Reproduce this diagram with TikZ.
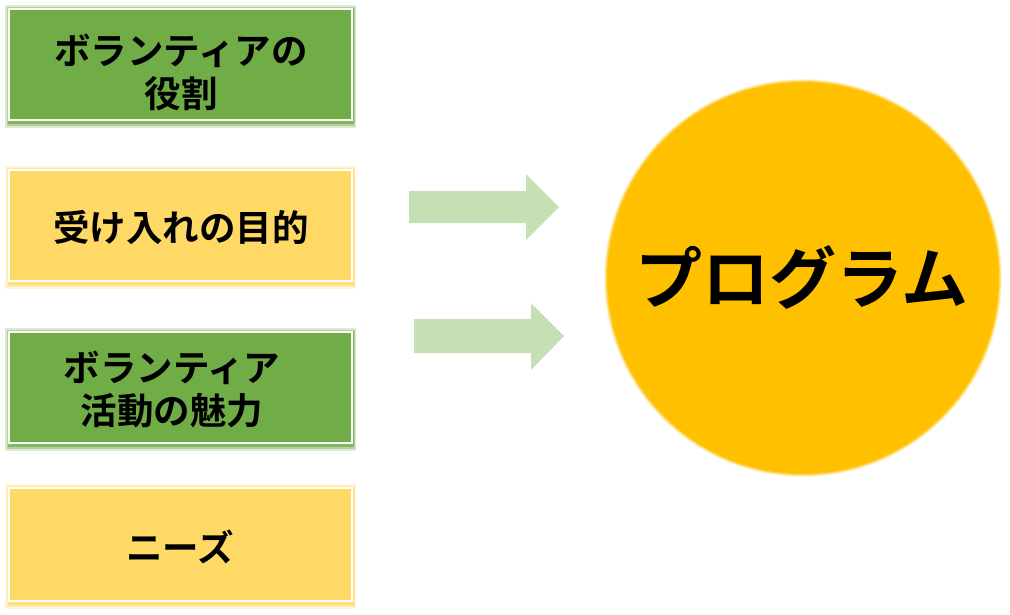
\documentclass[tikz,border=0pt]{standalone}
\usepackage{fontspec}
\newfontfamily\jp{Noto Sans CJK JP}[BoldFont={Noto Sans CJK JP Bold}]
\definecolor{boxgreen}{HTML}{70AD47}
\definecolor{boxyellow}{HTML}{FFD966}
\definecolor{arrowgreen}{HTML}{C5E0B4}
\definecolor{circyellow}{HTML}{FFC000}
\tikzset{
  card/.style={rectangle, draw=white, line width=1.4pt, minimum width=343pt, inner sep=0pt},
  cardtext/.style={font=\jp\bfseries\fontsize{36.5}{43}\selectfont, align=center, text=black, inner sep=0pt},
  bigtext/.style={font=\jp\bfseries\fontsize{67}{70}\selectfont, text=black, inner sep=0pt},
  blockarrow/.style={fill=arrowgreen, draw=none},
}
\newcommand{\glowcard}[5]{% name, x, y, h, color
  \fill[#5, opacity=0.25] (#2-175.5, #3-#4/2-4) rectangle (#2+175.5, #3+#4/2+8);
  \fill[#5, opacity=0.4] (#2-174, #3-#4/2-2.5) rectangle (#2+174, #3+#4/2+6);
  \fill[#5, opacity=0.7] (#2-173, #3-#4/2-1.5) rectangle (#2+173, #3+#4/2+4);
  \node[card, fill=#5, minimum height=#4 pt] (#1) at (#2,#3) {};
}
\begin{document}
\begin{tikzpicture}[x=1pt, y=-1pt]
\useasboundingbox (0,0) rectangle (1010,614);
% boxes
\glowcard{role}{180.5}{64.5}{111}{boxgreen}
\glowcard{purpose}{180.5}{225.5}{111}{boxyellow}
\glowcard{charm}{180.5}{387.5}{111}{boxgreen}
\glowcard{needs}{180.5}{544.5}{113}{boxyellow}
\node[cardtext] (roletxt) at (181,72) {ボランティアの\\役割};
\node[cardtext] (purposetxt) at (181,227) {受け入れの目的};
\node[cardtext] (charmtxt) at (172,389) {ボランティア\\活動の魅力};
\node[cardtext] (needstxt) at (180,547) {ニーズ};
% circle with soft edge
\foreach \r/\o in {199/0.15,198/0.3,197/0.5,196/0.75}{
  \fill[circyellow, opacity=\o] (803,278) circle (\r);
}
\node[circle, fill=circyellow, minimum size=390pt, inner sep=0pt] (prog) at (803,278) {};
\node[bigtext] (progtxt) at (802,278) {プログラム};
% block arrows
\fill[blockarrow] (409,191) -- (526,191) -- (526,174) -- (559,207) -- (526,240) -- (526,223) -- (409,223) -- cycle;
\fill[blockarrow] (414,319) -- (531,319) -- (531,303) -- (564,336) -- (531,370) -- (531,353) -- (414,353) -- cycle;
\end{tikzpicture}
\end{document}
